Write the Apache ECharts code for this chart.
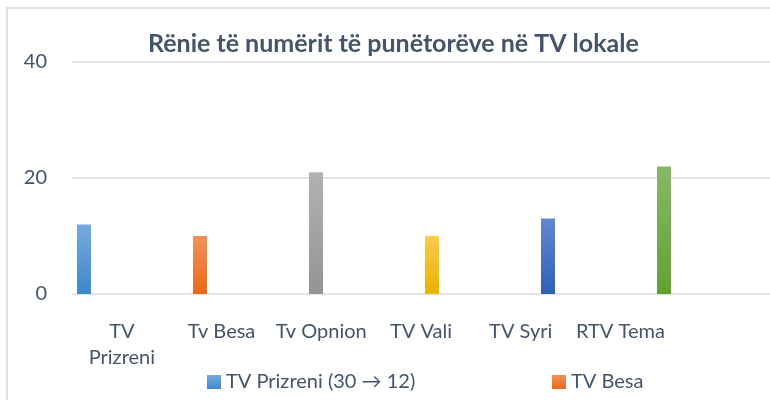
<!DOCTYPE html>
<html>
<head>
    <meta charset="utf-8">
    <title>Rënie të numërit të punëtorëve</title>
    <script src="https://cdn.jsdelivr.net/npm/echarts@6/dist/echarts.min.js"></script>
    <style>
        html, body { margin: 0; padding: 0; background: #ffffff; }
        #chart { width: 770px; height: 400px; }
    </style>
</head>
<body>
<div id="chart"></div>
<script>
    // të dhënat
    var stations = ['TV Prizreni', 'Tv Besa', 'Tv Opnion', 'TV Vali', 'TV Syri', 'RTV Tema'];
    var workers = [12, 10, 21, 10, 13, 22];
    var legendNames = ['TV Prizreni (30 → 12)', 'TV Besa', 'Tv Opnion', 'TV Vali', 'TV Syri', 'RTV Tema'];
    var yTicks = [0, 20, 40];

    // ngjyrat (lart -> poshte)
    var colors = [
        ['#75aae0', '#3e88cb'],
        ['#f2915a', '#e86a17'],
        ['#b2b2b2', '#949494'],
        ['#ffc94f', '#e6b300'],
        ['#6387d1', '#2d60b8'],
        ['#88b966', '#61a132']
    ];

    var textColor = '#44546a';
    var font = 'Lato, "Open Sans", sans-serif';

    var chart = echarts.init(document.getElementById('chart'), null, {renderer: 'canvas'});

    var series = stations.map(function (name, i) {
        return {
            name: legendNames[i],
            type: 'bar',
            xAxisIndex: 1,
            yAxisIndex: 1,
            stack: 'all',
            barWidth: 14,
            itemStyle: {
                color: new echarts.graphic.LinearGradient(0, 0, 0, 1, [
                    {offset: 0, color: colors[i][0]},
                    {offset: 1, color: colors[i][1]}
                ])
            },
            data: stations.map(function (s, j) { return j === i ? workers[i] : null; })
        };
    });

    var option = {
        animation: false,
        title: {
            text: 'Rënie të numërit të punëtorëve në TV lokale',
            left: 148,
            top: 31,
            padding: 0,
            textStyle: {color: textColor, fontFamily: font, fontWeight: 'bold', fontSize: 25}
        },
        graphic: [{
            type: 'rect',
            shape: {x: 7, y: 8, width: 800, height: 420},
            style: {fill: 'none', stroke: '#dde1e7', lineWidth: 2},
            silent: true
        }],
        legend: {
            data: legendNames.slice(0, 2),
            left: 207,
            top: 372,
            padding: 0,
            width: 700,
            itemWidth: 14,
            itemHeight: 14,
            itemGap: 6,
            icon: 'rect',
            textStyle: {color: textColor, fontFamily: font, fontSize: 20, lineHeight: 20, width: 320}
        },
        grid: [
            {left: 72, right: -9, top: 62, bottom: 106},
            {left: 84, right: 106, top: 62, bottom: 106}
        ],
        xAxis: [
            {
                type: 'category',
                gridIndex: 0,
                data: stations.concat(['']),
                axisLine: {show: false},
                axisTick: {show: false},
                axisLabel: {
                    color: textColor, fontFamily: font, fontSize: 20, lineHeight: 26, margin: 25,
                    interval: 0,
                    formatter: function (v) { return v === 'TV Prizreni' ? 'TV\nPrizreni' : v; }
                }
            },
            {
                type: 'category',
                gridIndex: 1,
                boundaryGap: false,
                data: stations,
                axisLine: {show: false},
                axisTick: {show: false},
                axisLabel: {show: false}
            }
        ],
        yAxis: [
            {
                type: 'value',
                gridIndex: 0,
                min: yTicks[0],
                max: yTicks[yTicks.length - 1],
                interval: yTicks[1] - yTicks[0],
                axisLine: {show: false},
                axisTick: {show: false},
                splitLine: {lineStyle: {color: '#e1e5eb', width: 2}},
                axisLabel: {color: textColor, fontFamily: font, fontSize: 20, margin: 25}
            },
            {
                type: 'value',
                gridIndex: 1,
                min: yTicks[0],
                max: yTicks[yTicks.length - 1],
                interval: yTicks[1] - yTicks[0],
                show: false
            }
        ],
        series: series
    };

    chart.setOption(option);
</script>
</body>
</html>
